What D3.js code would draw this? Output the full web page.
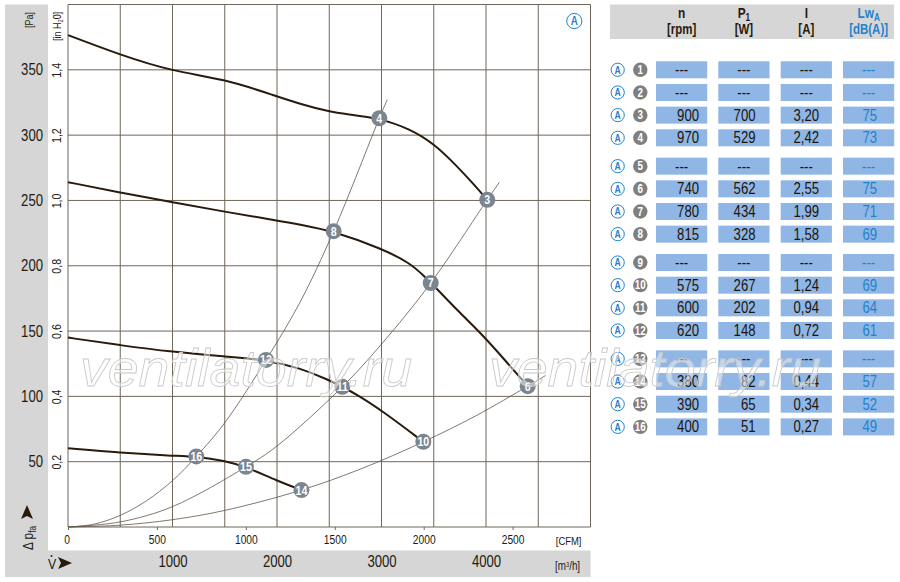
<!DOCTYPE html>
<html>
<head>
<meta charset="utf-8">
<script src="https://cdn.jsdelivr.net/npm/d3@7"></script>
<style>
  html, body { margin: 0; padding: 0; background: #fff; }
  svg { display: block; }
  text { font-family: "Liberation Sans", sans-serif; fill: #231a10; }
  .axis path, .axis line { stroke: #6f6759; }
  .axis path { display: none; }
</style>
</head>
<body>
<svg id="chart" width="900" height="582"></svg>
<script>
// fan curves, flow in m3/h, pressure in Pa
const curveAFlow = [0, 500, 1000, 1500, 2000, 2220, 2500, 2667, 2979, 3273, 3505, 3719, 3878, 4012];
const curveAPressure = [376.6, 361.4, 348.8, 343, 329.7, 323.9, 318, 316, 312.9, 304.8, 293.3, 276.5, 262.8, 250.5];
const curveBFlow = [0, 500, 1000, 1500, 2000, 2220, 2542, 3008, 3273, 3400, 3544, 3719, 3975, 4198, 4399];
const curveBPressure = [264, 256, 248.7, 241.3, 234.7, 231.6, 226.5, 213, 202, 192.7, 181.2, 166.4, 146.5, 126.2, 107.8];
const curveCFlow = [0, 500, 1000, 1500, 1895, 2220, 2500, 2625, 2762, 3008, 3400];
const curveCPressure = [145, 139.1, 134, 130.5, 127.9, 121.8, 112.4, 107.3, 101.5, 88.9, 65.2];
const curveDFlow = [0, 500, 1000, 1228, 1500, 1703, 2000, 2234];
const curveDPressure = [60.2, 56.8, 54.5, 54, 50.7, 46.1, 35.4, 28.3];

// thin system curves
const systemAFlow = [0, 250, 500, 750, 1000, 1228, 1500, 1895, 2220, 2542, 2979, 3055];
const systemAPressure = [0, 2.2, 8.9, 20, 35.5, 54, 79.8, 127.9, 172, 226.5, 312.9, 327.2];
const systemBFlow = [0, 500, 1000, 1703, 2000, 2625, 3000, 3471, 4012, 4127];
const systemBPressure = [0, 3.9, 15.6, 46.1, 62, 107.3, 140, 186.8, 250.5, 263.8];
const systemCFlow = [0, 500, 1000, 1500, 2234, 2800, 3400, 3900, 4399, 4571];
const systemCPressure = [0, 1.4, 5.6, 12.7, 28.3, 44.4, 65.2, 85, 107.8, 116];

// numbered operating points
const pointIds = [3, 4, 6, 7, 8, 10, 11, 12, 14, 15, 16];
const pointFlow = [4012, 2979, 4399, 3471, 2542, 3400, 2625, 1895, 2234, 1703, 1228];
const pointPressure = [250.5, 312.9, 107.8, 186.8, 226.5, 65.2, 107.3, 127.9, 28.3, 46.1, 54];

// axis ticks
const pressureTicks = [50, 100, 150, 200, 250, 300, 350];
const inchTicks = [0.2, 0.4, 0.6, 0.8, 1.0, 1.2, 1.4];
const cfmTicks = [0, 500, 1000, 1500, 2000, 2500];
const flowTicks = [1000, 2000, 3000, 4000];

// table
const tableColumns = ['n', 'P', 'I', 'Lw'];
const speeds = ['---', '---', '900', '970', '---', '740', '780', '815', '---', '575', '600', '620', '---', '380', '390', '400'];
const powers = ['---', '---', '700', '529', '---', '562', '434', '328', '---', '267', '202', '148', '---', '82', '65', '51'];
const currents = ['---', '---', '3,20', '2,42', '---', '2,55', '1,99', '1,58', '---', '1,24', '0,94', '0,72', '---', '0,44', '0,34', '0,27'];
const levels = ['---', '---', '75', '73', '---', '75', '71', '69', '---', '69', '64', '61', '---', '57', '52', '49'];

const GREY = '#d6d6d6';
const BLUE = '#1f82cc';
const GRID = '#6f6759';
const DARK = '#2a1a0c';

const svg = d3.select('#chart');

// scales
const x = d3.scaleLinear().domain([0, 5000]).range([68, 590.5]);
const y = d3.scaleLinear().domain([0, 400]).range([527, 4.5]);
const xCfm = d3.scaleLinear().domain([0, 2938]).range([68, 590.5]);
const yInch = d3.scaleLinear().domain([0, 1.6]).range([527, 4.5]);

// grey bands behind the axes
svg.append('rect').attr('x', 5).attr('y', 4.5).attr('width', 43).attr('height', 572.5).attr('fill', GREY);
svg.append('rect').attr('x', 5).attr('y', 550.5).attr('width', 585.5).attr('height', 26.5).attr('fill', GREY);

// grid
const grid = svg.append('g').attr('fill', 'none').attr('stroke', GRID).attr('stroke-width', 1);
grid.selectAll('.v').data(d3.range(0, 5001, 500)).join('line')
  .attr('class', 'v')
  .attr('x1', d => x(d)).attr('x2', d => x(d))
  .attr('y1', y(400)).attr('y2', y(0));
grid.selectAll('.h').data(d3.range(0, 401, 50)).join('line')
  .attr('class', 'h')
  .attr('x1', x(0)).attr('x2', x(5000))
  .attr('y1', d => y(d)).attr('y2', d => y(d));

// axes
const pressureAxis = svg.append('g').attr('class', 'axis').attr('transform', 'translate(48,0)')
  .call(d3.axisLeft(y).tickValues(pressureTicks).tickSize(0).tickPadding(5));
pressureAxis.selectAll('text').style('font-size', '16px');

const inchAxis = svg.append('g').attr('class', 'axis').attr('transform', 'translate(61,0)')
  .call(d3.axisLeft(yInch).tickValues(inchTicks).tickSize(0).tickPadding(0).tickFormat(d => d3.format('.1f')(d).replace('.', ',')));
inchAxis.selectAll('text')
  .style('font-size', '13px')
  .attr('text-anchor', 'middle')
  .attr('dy', 0)
  .attr('x', 0)
  .attr('y', 0)
  .attr('transform', 'rotate(-90)');

const cfmAxis = svg.append('g').attr('class', 'axis').attr('transform', `translate(0,${y(0)})`)
  .call(d3.axisBottom(xCfm).tickValues(cfmTicks).tickSize(3).tickPadding(5).tickFormat(d => d));
cfmAxis.selectAll('text').style('font-size', '12.5px');
cfmAxis.selectAll('text').filter(d => d === 0).attr('dx', -1.5);

const flowAxis = svg.append('g').attr('class', 'axis').attr('transform', 'translate(0,556)')
  .call(d3.axisBottom(x).tickValues(flowTicks).tickSize(0).tickPadding(0).tickFormat(d => d));
flowAxis.selectAll('text').style('font-size', '16px');

// axis names
svg.append('text').attr('transform', 'translate(33,20) rotate(-90)').attr('text-anchor', 'middle')
  .style('font-size', '11px').text('[Pa]');
const inchName = svg.append('text').attr('transform', 'translate(61,41) rotate(-90)')
  .style('font-size', '11px');
inchName.append('tspan').text('[in H');
inchName.append('tspan').attr('dy', 2).style('font-size', '7px').text('2');
inchName.append('tspan').attr('dy', -2).text('0]');

svg.append('text').attr('x', 581.5).attr('y', 545).attr('text-anchor', 'end').style('font-size', '11.5px').text('[CFM]');
const m3Name = svg.append('text').attr('x', 555).attr('y', 570).style('font-size', '12px');
m3Name.append('tspan').text('[m');
m3Name.append('tspan').attr('dy', -3).style('font-size', '7px').text('3');
m3Name.append('tspan').attr('dy', 3).text('/h]');

const dp = svg.append('text').attr('transform', 'translate(33,550) rotate(-90)').style('font-size', '14.5px');
dp.append('tspan').text('\u0394 p');
dp.append('tspan').attr('dy', 3).style('font-size', '10px').text('fa');
svg.append('path').attr('d', 'M27,505 L33,519 L27,516 L21,519 Z').attr('fill', DARK);

svg.append('text').attr('x', 48).attr('y', 569).style('font-size', '15px').text('V');
svg.append('circle').attr('cx', 51.5).attr('cy', 556).attr('r', 0.9).attr('fill', DARK);
svg.append('path').attr('d', 'M58,557 L72,563 L58,569 L61,563 Z').attr('fill', DARK);

// system curves, then fan curves
const smooth = d3.line().x(d => x(d[0])).y(d => y(d[1])).curve(d3.curveCatmullRom.alpha(0.5));
const fanLine = d3.line().x(d => x(d[0])).y(d => y(d[1])).curve(d3.curveBasis);

[[systemAFlow, systemAPressure], [systemBFlow, systemBPressure], [systemCFlow, systemCPressure]].forEach(s => {
  svg.append('path').attr('d', smooth(d3.zip(s[0], s[1])))
    .attr('fill', 'none').attr('stroke', '#5f574a').attr('stroke-width', 0.8);
});

[[curveAFlow, curveAPressure], [curveBFlow, curveBPressure], [curveCFlow, curveCPressure], [curveDFlow, curveDPressure]].forEach(s => {
  svg.append('path').attr('d', fanLine(d3.zip(s[0], s[1])))
    .attr('fill', 'none').attr('stroke', DARK).attr('stroke-width', 2);
});

// numbered points
const points = svg.selectAll('.point').data(pointIds).join('g')
  .attr('class', 'point')
  .attr('transform', (d, i) => `translate(${x(pointFlow[i])},${y(pointPressure[i])})`);
points.append('circle').attr('r', 8).attr('fill', '#7b8590');
points.append('text').attr('text-anchor', 'middle').attr('dy', 4.5)
  .style('font-size', '13px').style('font-weight', 'bold').style('fill', '#fff').text(d => d);

// small circled A, used on the chart and in every table row
function badgeA(sel, cx, cy, r, size) {
  const g = sel.append('g').attr('transform', `translate(${cx},${cy})`);
  g.append('circle').attr('r', r).attr('fill', '#fff').attr('stroke', BLUE).attr('stroke-width', 1);
  g.append('text').attr('text-anchor', 'middle').attr('dy', size * 0.36)
    .style('font-size', `${size}px`).style('font-weight', 'bold').style('fill', BLUE).text('A');
}
badgeA(svg, 574.3, 21, 7.6, 12);

// table header
svg.append('rect').attr('x', 610).attr('y', 4.5).attr('width', 284).attr('height', 34.5).attr('fill', GREY);
const columnX = d3.scaleOrdinal().domain(tableColumns).range([656, 718.3, 780.7, 843]);
const columnRight = d3.scaleOrdinal().domain(tableColumns).range([699, 755.5, 819, 877]);
const columnValues = { n: speeds, P: powers, I: currents, Lw: levels };
const cellW = 51.2;
const cellH = 17;

function header(col, top, sub, unit, color) {
  const cx = columnX(col) + cellW / 2;
  const t = svg.append('text').attr('x', cx).attr('y', 18).attr('text-anchor', 'middle')
    .style('font-size', '14.5px').style('font-weight', 'bold').style('fill', color);
  t.append('tspan').text(top);
  if (sub) t.append('tspan').attr('dy', 3).style('font-size', '10px').text(sub);
  svg.append('text').attr('x', cx).attr('y', 34).attr('text-anchor', 'middle')
    .style('font-size', '14px').style('font-weight', 'bold').style('fill', color).text(unit);
}
header('n', 'n', '', '[rpm]', DARK);
header('P', 'P', '1', '[W]', DARK);
header('I', 'I', '', '[A]', DARK);
header('Lw', 'Lw', 'A', '[dB(A)]', BLUE);

// table rows, groups of four with a small gap
const rowY = i => 61.3 + i * 22.67 + Math.floor(i / 4) * 5.67;
const rows = svg.selectAll('.row').data(speeds).join('g')
  .attr('class', 'row')
  .attr('transform', (d, i) => `translate(0,${rowY(i)})`);

rows.each(function (d, i) {
  const row = d3.select(this);
  badgeA(row, 617.7, cellH / 2, 6.6, 10.5);
  row.append('circle').attr('cx', 640.3).attr('cy', cellH / 2).attr('r', 7.2).attr('fill', '#7f7f7f');
  row.append('text').attr('x', 640.3).attr('y', cellH / 2 + 4.3).attr('text-anchor', 'middle')
    .style('font-size', '12px').style('font-weight', 'bold').style('fill', '#fff').text(i + 1);
  tableColumns.forEach(col => {
    const value = columnValues[col][i];
    const dash = value === '---';
    row.append('rect').attr('x', columnX(col)).attr('width', cellW).attr('height', cellH).attr('fill', '#8fb6e4');
    row.append('text')
      .attr('x', dash ? columnX(col) + cellW / 2 : columnRight(col))
      .attr('y', cellH / 2 + 5.5)
      .attr('text-anchor', dash ? 'middle' : 'end')
      .style('font-size', '16px')
      .style('fill', col === 'Lw' ? BLUE : '#1c140c')
      .text(value);
  });
});

// no narrow face installed, so squeeze the glyphs of every label
svg.selectAll('text, tspan').each(function () {
  if (this.children.length) return;
  this.setAttribute('textLength', this.getComputedTextLength() * 0.82);
  this.setAttribute('lengthAdjust', 'spacingAndGlyphs');
});

// watermark over everything
[80, 489].forEach(left => {
  svg.append('text').attr('x', left).attr('y', 386)
    .attr('textLength', 332).attr('lengthAdjust', 'spacingAndGlyphs')
    .style('font-style', 'italic')
    .style('font-size', '52px')
    .style('fill', 'rgba(255,255,255,0.45)')
    .style('stroke', '#c8c8c8')
    .style('stroke-width', 0.8)
    .text('ventilatorry.ru');
});
</script>
</body>
</html>
